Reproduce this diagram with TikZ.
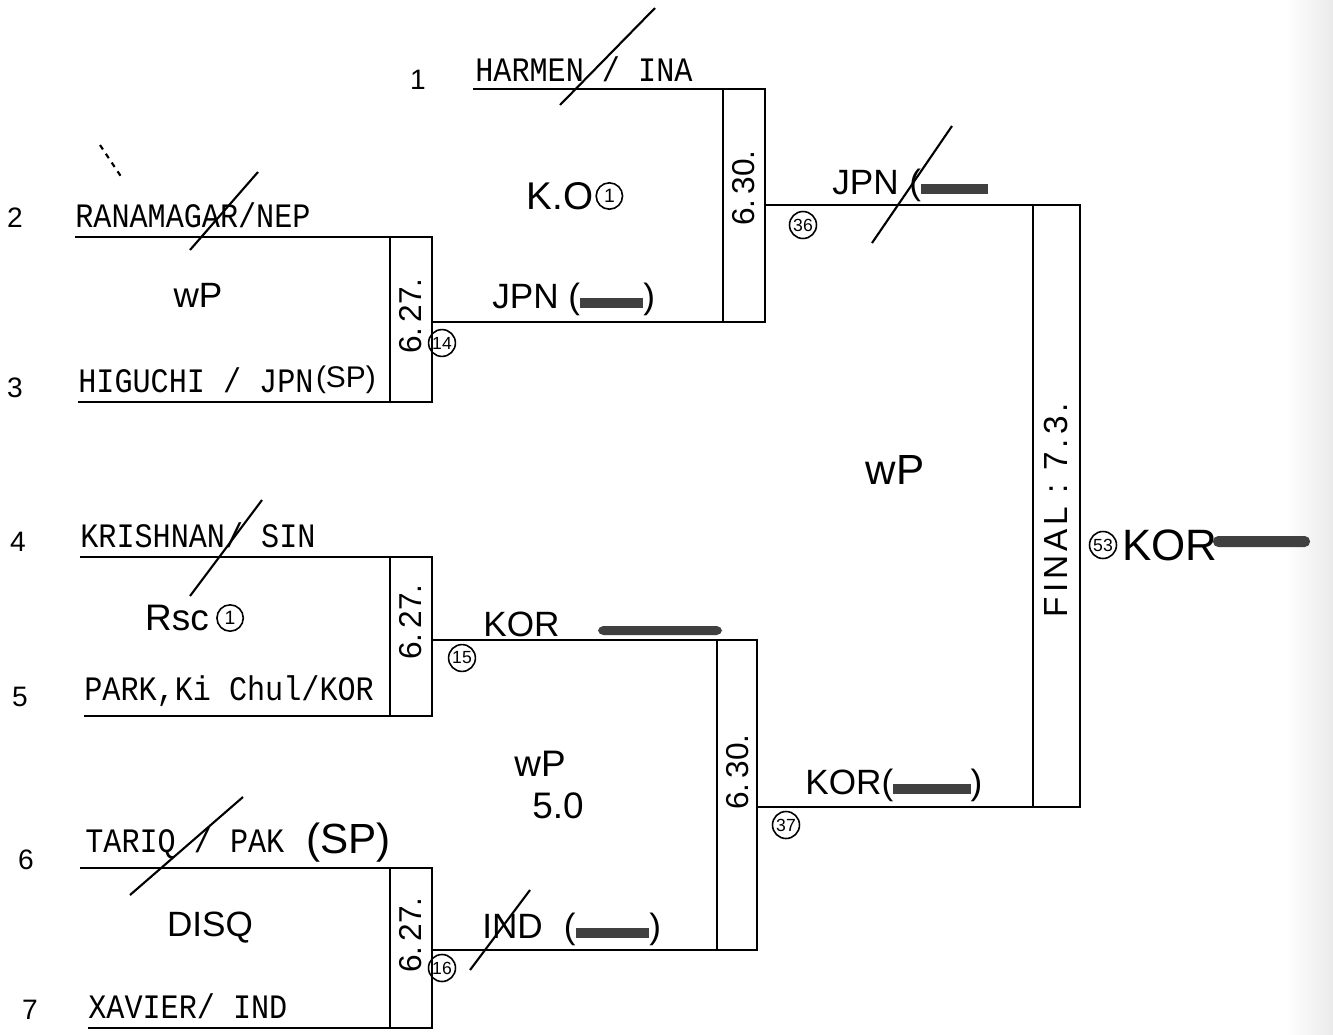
\documentclass[tikz,border=0pt]{standalone}
\usepackage{fontspec}
\setmainfont{Liberation Mono}[FakeStretch=0.88]
\newfontfamily\handfont{Liberation Sans}
\usetikzlibrary{positioning, calc}

\begin{document}
\begin{tikzpicture}[x=0.02cm, y=-0.02cm,
    line/.style={line width=1pt},
    entry/.style={anchor=south west, inner sep=0pt, font=\fontsize{19.5}{19.5}\selectfont},
    seed/.style={font=\handfont\fontsize{16}{16}\selectfont},
    date/.style={rotate=90, inner sep=0pt, font=\handfont\fontsize{18}{18}\selectfont},
    hand/.style={inner sep=0pt, font=\handfont\fontsize{20}{20}\selectfont},
    bout/.style={circle, draw, line width=0.9pt, inner sep=0.8pt, minimum size=15pt, font=\handfont\fontsize{10}{10}\selectfont},
    cross/.style={line width=1.2pt},
    blot/.style={fill=black!75, rounded corners=3pt}]

    \useasboundingbox (0,0) rectangle (1333,1035);

    % Scan edge
    \shade[left color=white, right color=black!8] (1285,0) rectangle (1333,1035);

    % Corners of the bracket
    \coordinate (p1s) at (473,89);
    \coordinate (s1nw) at (723,89);  \coordinate (s1ne) at (765,89);
    \coordinate (s1sw) at (723,322); \coordinate (s1se) at (765,322);
    \coordinate (s1e) at (765,205);
    \coordinate (p2s) at (75,237);   \coordinate (p3s) at (78,402);
    \coordinate (anw) at (390,237);  \coordinate (ane) at (432,237);
    \coordinate (asw) at (390,402);  \coordinate (ase) at (432,402);
    \coordinate (ae) at (432,322);
    \coordinate (fnw) at (1033,205); \coordinate (fne) at (1080,205);
    \coordinate (fsw) at (1033,807); \coordinate (fse) at (1080,807);
    \coordinate (p4s) at (80,557);   \coordinate (p5s) at (84,716);
    \coordinate (bnw) at (390,557);  \coordinate (bne) at (432,557);
    \coordinate (bsw) at (390,716);  \coordinate (bse) at (432,716);
    \coordinate (be) at (432,640);
    \coordinate (s2nw) at (717,640); \coordinate (s2ne) at (757,640);
    \coordinate (s2sw) at (717,950); \coordinate (s2se) at (757,950);
    \coordinate (s2e) at (757,807);
    \coordinate (p6s) at (80,868);   \coordinate (p7s) at (88,1028);
    \coordinate (cnw) at (390,868);  \coordinate (cne) at (432,868);
    \coordinate (csw) at (390,1028); \coordinate (cse) at (432,1028);
    \coordinate (ce) at (432,950);

    % Bracket lines
    \draw[line] (p1s) -- (s1ne) -- (s1se) -- (ae);
    \draw[line] (s1nw) -- (s1sw);
    \draw[line] (p2s) -- (ane) -- (ase) -- (p3s);
    \draw[line] (anw) -- (asw);
    \draw[line] (s1e) -- (fne) -- (fse) -- (s2e);
    \draw[line] (fnw) -- (fsw);
    \draw[line] (p4s) -- (bne) -- (bse) -- (p5s);
    \draw[line] (bnw) -- (bsw);
    \draw[line] (be) -- (s2ne) -- (s2se) -- (ce);
    \draw[line] (s2nw) -- (s2sw);
    \draw[line] (p6s) -- (cne) -- (cse) -- (p7s);
    \draw[line] (cnw) -- (csw);

    % Dates
    \node[date] (da) at (411,316) {6.\,27.};
    \node[date] (db) at (411,622) {6.\,27.};
    \node[date] (dc) at (411,935) {6.\,27.};
    \node[date] (ds1) at (744,188) {6.\,30.};
    \node[date] (ds2) at (738,772) {6.\,30.};
    \node[date, font=\handfont\fontsize{19}{19}\selectfont\addfontfeatures{LetterSpace=12}] (dfin) at (1056,510) {FINAL : 7.3.};

    % Draw numbers
    \node[seed] (n1) at (418,80) {1};
    \node[seed] (n2) at (15,218) {2};
    \node[seed] (n3) at (15,388) {3};
    \node[seed] (n4) at (18,542) {4};
    \node[seed] (n5) at (20,697) {5};
    \node[seed] (n6) at (26,860) {6};
    \node[seed] (n7) at (30,1010) {7};

    % Boxers
    \node[entry] (e1) at ($(p1s)+(2,-7)$) {HARMEN / INA};
    \node[entry] (e2) at ($(p2s)+(0,-9)$) {RANAMAGAR/NEP};
    \node[entry] (e3) at ($(p3s)+(0,-9)$) {HIGUCHI / JPN};
    \node[entry] (e4) at ($(p4s)+(0,-9)$) {KRISHNAN/ SIN};
    \node[entry] (e5) at ($(p5s)+(0,-9)$) {PARK,Ki Chul/KOR};
    \node[entry] (e6) at ($(p6s)+(5,-9)$) {TARIQ / PAK};
    \node[entry] (e7) at ($(p7s)+(0,-9)$) {XAVIER/ IND};
    \node[hand, font=\handfont\fontsize{17}{17}\selectfont, right=1pt of e3] (sp3) {(SP)};
    \node[hand, font=\handfont\fontsize{24}{24}\selectfont, right=12pt of e6] (sp6) {(SP)};

    % Results
    \node[hand, font=\handfont\fontsize{22}{22}\selectfont] (ko) at (560,196) {K.O};
    \node[bout, font=\handfont\fontsize{11}{11}\selectfont, right=1pt of ko] (ko1) {1};
    \node[hand, font=\handfont\fontsize{21}{21}\selectfont] (rsc) at (177,618) {Rsc};
    \node[bout, font=\handfont\fontsize{11}{11}\selectfont, right=4pt of rsc] (rsc1) {1};
    \node[hand] (wpa) at (198,295) {wP};
    \node[hand, font=\handfont\fontsize{21}{21}\selectfont] (wpb) at (540,764) {wP};
    \node[hand, font=\handfont\fontsize{21}{21}\selectfont] (fivo) at (558,806) {5.0};
    \node[hand] (disq) at (210,928) {DISQ};
    \node[hand, font=\handfont\fontsize{24}{24}\selectfont] (wpf) at (895,470) {wP};

    % Winners
    \node[hand, anchor=south west] (wa) at (492,316) {JPN (\textcolor{black!75}{\rule{36pt}{6pt}})};
    \node[hand, anchor=south west] (wb) at (483,637) {KOR};
    \fill[blot] (598,626) rectangle (722,635);
    \node[hand, anchor=south west] (wc) at (482,946) {IND\hspace{12pt}(\textcolor{black!75}{\rule{42pt}{6pt}})};
    \node[hand, anchor=south west] (ws1) at (832,202) {JPN\hspace{6pt}(\textcolor{black!75}{\rule{38pt}{6pt}}};
    \node[hand, anchor=south west] (ws2) at (805,802) {KOR(\textcolor{black!75}{\rule{44pt}{6pt}})};
    \node[hand, font=\handfont\fontsize{25}{25}\selectfont, anchor=west] (champ) at (1122,545) {KOR};
    \fill[blot] (1213,536) rectangle (1310,547);

    % Bout numbers
    \node[bout] (b14) at (442,343) {14};
    \node[bout] (b15) at (462,658) {15};
    \node[bout] (b16) at (442,968) {16};
    \node[bout] (b36) at (803,225) {36};
    \node[bout] (b37) at (786,825) {37};
    \node[bout] (b53) at (1103,545) {53};

    % Cross-outs
    \draw[cross] (560,105) -- (655,8);
    \draw[cross] (190,250) -- (258,172);
    \draw[cross, dashed] (100,145) -- (122,178);
    \draw[cross] (190,596) -- (262,500);
    \draw[cross] (130,895) -- (243,797);
    \draw[cross] (872,243) -- (952,126);
    \draw[cross] (470,970) -- (530,890);
\end{tikzpicture}
\end{document}
